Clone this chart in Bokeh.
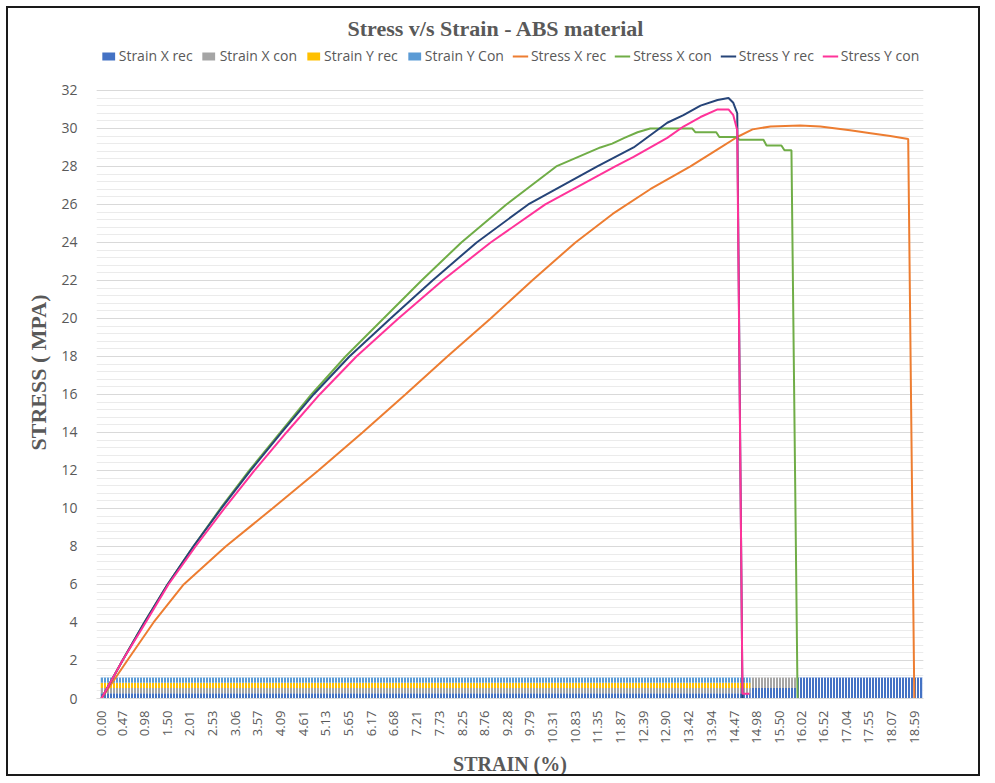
import math
from bokeh.plotting import figure
from bokeh.models import (ColumnDataSource, Range1d, FixedTicker, NumeralTickFormatter,
                          Legend, LegendItem)
from bokeh.embed import file_html
from bokeh.resources import INLINE

# ---------------- data ----------------
title_text = "Stress v/s Strain - ABS material"
x_title = "STRAIN (%)"
y_title = "STRESS ( MPA)"
x_tick_values = [0.00, 0.47, 0.98, 1.50, 2.01, 2.53, 3.06, 3.57, 4.09, 4.61, 5.13, 5.65,
                 6.17, 6.68, 7.21, 7.73, 8.25, 8.76, 9.28, 9.79, 10.31, 10.83, 11.35,
                 11.87, 12.39, 12.90, 13.42, 13.94, 14.47, 14.98, 15.50, 16.02, 16.52,
                 17.04, 17.55, 18.07, 18.59]
y_tick_values = [0, 2, 4, 6, 8, 10, 12, 14, 16, 18, 20, 22, 24, 26, 28, 30, 32]

# Stress X rec (orange)
sxr_strain = [0.00, 0.59, 1.19, 1.88, 2.84, 3.91, 4.96, 5.97, 6.95, 7.91, 8.90, 9.85,
              10.84, 11.69, 12.55, 13.47, 14.09, 14.54, 14.89, 15.30, 15.98, 16.44,
              17.12, 17.59, 18.04, 18.45, 18.59]
sxr_stress = [0.0, 2.0, 4.0, 6.0, 8.0, 10.0, 12.0, 14.0, 16.0, 18.0, 20.0, 22.0,
              24.0, 25.5, 26.8, 28.0, 28.9, 29.55, 29.95, 30.1, 30.15, 30.1,
              29.9, 29.75, 29.6, 29.45, 0.0]

# Stress X con (green)
sxc_strain = [0.00, 0.48, 0.98, 1.51, 2.10, 2.72, 3.38, 4.09, 4.80, 5.58, 6.45, 7.32,
              8.23, 9.26, 10.40, 11.41, 11.68, 11.96, 12.26, 12.55, 13.51, 13.58,
              14.06, 14.13, 14.52, 14.59, 15.14, 15.21, 15.55, 15.62, 15.78, 15.92]
sxc_stress = [0.0, 2.0, 4.0, 6.0, 8.0, 10.0, 12.0, 14.0, 16.0, 18.0, 20.0, 22.0,
              24.0, 26.0, 28.0, 29.0, 29.2, 29.5, 29.8, 30.0, 30.0, 29.8,
              29.8, 29.55, 29.55, 29.4, 29.4, 29.1, 29.1, 28.85, 28.85, 0.0]

# Stress Y rec (navy)
syr_strain = [0.00, 0.48, 0.98, 1.51, 2.10, 2.74, 3.41, 4.12, 4.85, 5.67, 6.61, 7.57,
              8.58, 9.76, 11.34, 12.17, 12.94, 13.31, 13.70, 14.09, 14.34, 14.45,
              14.54, 14.66]
syr_stress = [0.0, 2.0, 4.0, 6.0, 8.0, 10.0, 12.0, 14.0, 16.0, 18.0, 20.0, 22.0,
              24.0, 26.0, 28.0, 29.0, 30.3, 30.7, 31.2, 31.5, 31.6, 31.35,
              30.8, 0.0]

# Stress Y con (pink)
syc_strain = [0.00, 0.48, 1.01, 1.53, 2.15, 2.81, 3.50, 4.23, 4.99, 5.83, 6.79, 7.80,
              8.90, 10.15, 11.75, 12.17, 12.94, 13.31, 13.70, 14.09, 14.34, 14.45,
              14.54, 14.66, 14.82]
syc_stress = [0.0, 2.0, 4.0, 6.0, 8.0, 10.0, 12.0, 14.0, 16.0, 18.0, 20.0, 22.0,
              24.0, 26.0, 28.0, 28.5, 29.5, 30.1, 30.6, 31.0, 31.0, 30.7,
              29.9, 0.25, 0.25]

# Strain columns (100 % stacked, drawn on the stress scale)
strain_names = ["Strain X rec", "Strain X con", "Strain Y rec", "Strain Y Con"]
strain_colors = ["#4472C4", "#A5A5A5", "#FFC000", "#5B9BD5"]
strain_first = -0.02
strain_last = [18.78, 15.90, 14.84, 14.84]
strain_full = 1.1

stress_names = ["Stress X rec", "Stress X con", "Stress Y rec", "Stress Y con"]
stress_colors = ["#ED7D31", "#70AD47", "#264478", "#FF3399"]
stress_x = [sxr_strain, sxc_strain, syr_strain, syc_strain]
stress_y = [sxr_stress, sxc_stress, syr_stress, syc_stress]

# ---------------- figure ----------------
TXT = "#595959"
# frame spans the plot area plus a strip on top (above 32) that holds the legend
p = figure(width=974, height=770, output_backend="svg", toolbar_location=None,
           x_range=Range1d(-0.114, 18.80), y_range=Range1d(0, 34.312),
           min_border_left=88, min_border_right=59, min_border_top=37,
           min_border_bottom=80, title=title_text)
p.styles = {"margin-left": "6px", "margin-top": "6px", "border": "2px solid #1a1a1a"}
p.outline_line_color = None
p.background_fill_color = "white"
p.border_fill_color = "white"

p.title.align = "left"
p.title.offset = 251
p.title.standoff = 11
p.title.text_font = "Liberation Serif"
p.title.text_font_style = "bold"
p.title.text_font_size = "22px"
p.title.text_color = TXT

p.xaxis.ticker = FixedTicker(ticks=x_tick_values)
p.xaxis.formatter = NumeralTickFormatter(format="0.00")
p.xaxis.major_label_orientation = math.pi / 2
p.xaxis.major_label_text_font = "Open Sans"
p.xaxis.major_label_text_font_size = "13px"
p.xaxis.major_label_text_color = TXT
p.xaxis.major_label_standoff = 6
p.xaxis.axis_line_color = "#D9D9D9"
p.xaxis.major_tick_line_color = None
p.xaxis.minor_tick_line_color = None
p.xaxis.axis_label = x_title
p.xaxis.axis_label_text_font = "Liberation Serif"
p.xaxis.axis_label_text_font_style = "bold"
p.xaxis.axis_label_text_font_size = "20px"
p.xaxis.axis_label_text_color = TXT
p.xaxis.axis_label_standoff = 6

minor = [i * 0.4 for i in range(int(y_tick_values[-1] / 0.4) + 1)]
p.yaxis.ticker = FixedTicker(ticks=y_tick_values, minor_ticks=minor)
p.yaxis.major_label_text_font = "Open Sans"
p.yaxis.major_label_text_font_size = "14px"
p.yaxis.major_label_text_color = TXT
p.yaxis.axis_line_color = None
p.yaxis.major_tick_line_color = None
p.yaxis.minor_tick_line_color = None
p.yaxis.major_label_standoff = 13
p.yaxis.axis_label = y_title
p.yaxis.axis_label_text_font = "Liberation Serif"
p.yaxis.axis_label_text_font_style = "bold"
p.yaxis.axis_label_text_font_size = "22px"
p.yaxis.axis_label_text_color = TXT
p.yaxis.axis_label_standoff = 7

p.xgrid.grid_line_color = None
p.ygrid.grid_line_color = "#D9D9D9"
p.ygrid.minor_grid_line_color = "#EBEBEB"

# strain columns: 100 % stacked bands
ends = sorted(set(strain_last))
starts = [strain_first] + ends[:-1]
bands = {n: dict(left=[], right=[], bottom=[], top=[]) for n in strain_names}
for s, e in zip(starts, ends):
    active = [n for n, last in zip(strain_names, strain_last) if last >= e]
    share = strain_full / len(active)
    base = 0.0
    for n in active:
        bands[n]["left"].append(s)
        bands[n]["right"].append(e)
        bands[n]["bottom"].append(base)
        bands[n]["top"].append(base + share)
        base += share

items = []
for n, c in zip(strain_names, strain_colors):
    r = p.quad(source=ColumnDataSource(bands[n]), left="left", right="right",
               bottom="bottom", top="top", fill_color=c, line_color=None)
    items.append(LegendItem(label=n, renderers=[r]))
# white gaps between the thin columns
p.quad(left=[strain_first], right=[max(strain_last)], bottom=[0], top=[strain_full],
       fill_alpha=0, line_color=None, hatch_pattern="vertical_line",
       hatch_color="white", hatch_weight=1, hatch_scale=3)
for n, xs, ys, c in zip(stress_names, stress_x, stress_y, stress_colors):
    r = p.line(xs, ys, line_color=c, line_width=2)
    items.append(LegendItem(label=n, renderers=[r]))

legend = Legend(items=items, orientation="horizontal", location="top_center",
                label_text_font="Open Sans", label_text_font_size="14px",
                label_text_color=TXT, glyph_width=16, glyph_height=10,
                label_standoff=3, spacing=8, padding=0, margin=0,
                label_height=16, border_line_color=None, background_fill_alpha=0)
p.add_layout(legend)

open("out.html", "w").write(file_html(p, INLINE))
